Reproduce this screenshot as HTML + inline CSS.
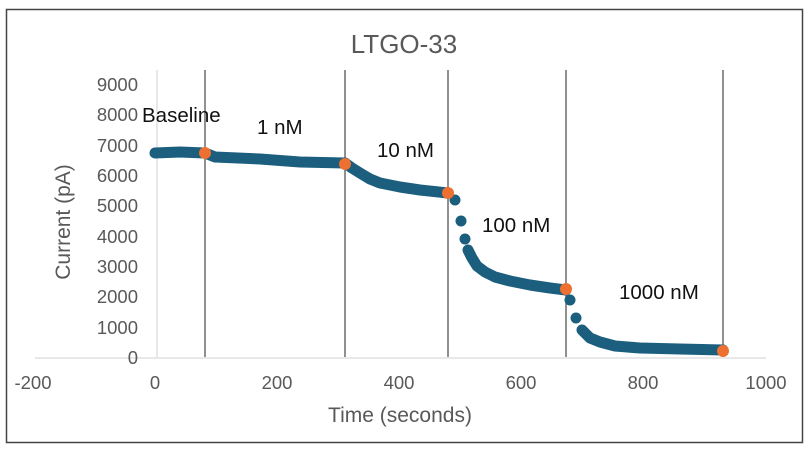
<!DOCTYPE html>
<html><head><meta charset="utf-8"><style>body{margin:0;background:#fff}svg{display:block}text{font-family:"Liberation Sans",sans-serif}</style></head>
<body>
<svg width="809" height="450" viewBox="0 0 809 450" xmlns="http://www.w3.org/2000/svg">
<rect x="0" y="0" width="809" height="450" fill="#fff"/>
<rect x="6.5" y="9.5" width="796" height="433" fill="none" stroke="#444" stroke-width="1.5"/>
<text x="404" y="53" text-anchor="middle" font-size="26" fill="#595959">LTGO-33</text>
<line x1="157" y1="70" x2="157" y2="357" stroke="#d0d0d0" stroke-width="1"/>
<line x1="35" y1="358" x2="766" y2="358" stroke="#d9d9d9" stroke-width="1.2"/>
<g fill="#595959" font-size="18.5" text-anchor="end">
<text x="138" y="91">9000</text><text x="138" y="121">8000</text><text x="138" y="152">7000</text>
<text x="138" y="182">6000</text><text x="138" y="212">5000</text><text x="138" y="243">4000</text>
<text x="138" y="273">3000</text><text x="138" y="303">2000</text><text x="138" y="334">1000</text>
<text x="138" y="364">0</text></g>
<g fill="#595959" font-size="18.5" text-anchor="middle">
<text x="33" y="389">-200</text><text x="155" y="389">0</text><text x="277" y="389">200</text>
<text x="399" y="389">400</text><text x="521" y="389">600</text><text x="643" y="389">800</text><text x="766" y="389">1000</text></g>
<text x="400" y="422" text-anchor="middle" font-size="21" fill="#595959">Time (seconds)</text>
<text transform="translate(70,222) rotate(-90)" text-anchor="middle" font-size="21" fill="#595959">Current (pA)</text>
<g stroke="#555" stroke-width="1.3">
<line x1="205" y1="70" x2="205" y2="357"/><line x1="345" y1="70" x2="345" y2="357"/>
<line x1="448" y1="70" x2="448" y2="357"/><line x1="566" y1="70" x2="566" y2="357"/>
<line x1="723" y1="70" x2="723" y2="357"/></g>
<g fill="none" stroke="#1b5e7e" stroke-width="11" stroke-linecap="round" stroke-linejoin="round">
<polyline points="155,153 180,152 205,153 215,157 260,159 300,162 345,163"/>
<polyline points="345,163 352,168 360,173 370,179 380,183 400,187 420,190 448,193"/>
<polyline points="468,250 472,258 477,266 485,272 495,277 510,281 530,285 550,288 566,290"/>
<polyline points="582,330 590,338 600,342 615,346 640,348 680,349 723,350"/>
</g>
<g fill="#1b5e7e">
<circle cx="455" cy="200" r="5.5"/><circle cx="461" cy="221" r="5.5"/><circle cx="465" cy="239" r="5.5"/>
<circle cx="570" cy="300" r="5.5"/><circle cx="576" cy="318" r="5.5"/>
</g>
<g fill="#ed7030">
<circle cx="205" cy="153" r="6"/><circle cx="345" cy="164" r="6"/><circle cx="448" cy="193" r="6"/>
<circle cx="566" cy="289" r="6"/><circle cx="723" cy="351" r="6"/></g>
<g fill="#111" font-size="20.5">
<text x="142" y="122">Baseline</text><text x="257" y="134">1 nM</text><text x="377" y="157">10 nM</text>
<text x="482" y="232">100 nM</text><text x="619" y="299">1000 nM</text></g>
</svg>
</body></html>
